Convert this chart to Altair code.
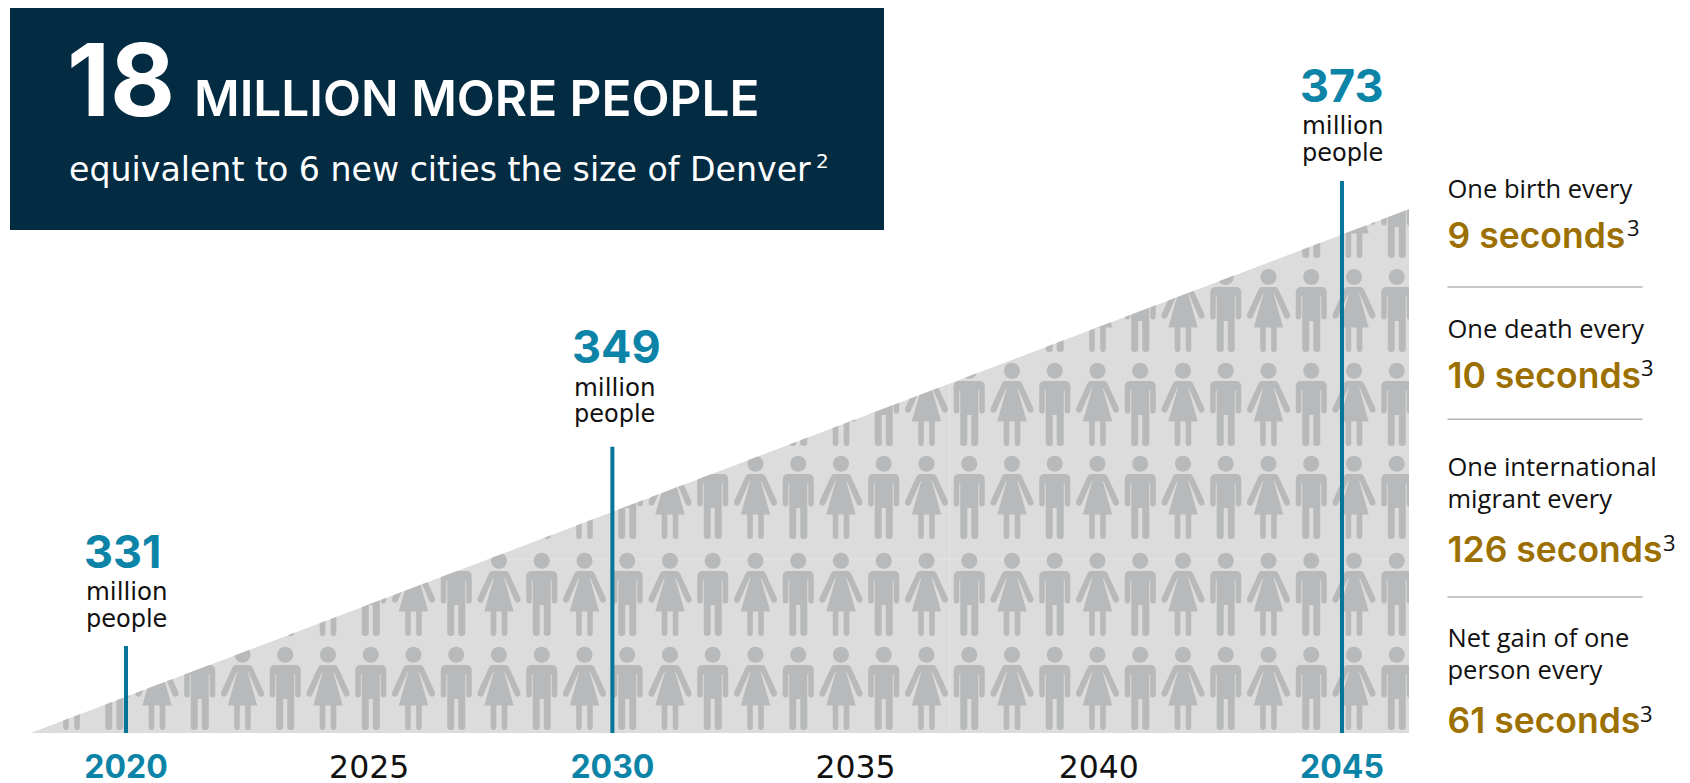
import altair as alt
import pandas as pd

# Population milestones
MILESTONE_YEARS = [2020, 2030, 2045]
MILESTONE_POP = [331, 349, 373]
AXIS_BOLD_YEARS = [2020, 2030, 2045]
AXIS_PLAIN_YEARS = [2025, 2035, 2040]

# The rising wedge behind the pictogram, in years and millions of people
WEDGE_YEARS = [2018.03, 2046.38]
WEDGE_POP = [323.14, 370.48]
BASE_POP = 323.14

# Pictogram lattice: column spacing and the row levels
FIRST_COL_YEAR, COL_STEP, N_COLS = 2018.88, 0.8789, 32
ROW_LEVELS = [327.16, 335.65, 344.41, 352.81, 361.30, 369.79]

W, H = 1690, 783
X_DOMAIN = [2017.41, 2052.155]
Y_DOMAIN = [318.62, 389.36]
TEAL, STEM, GOLD, NAVY = "#0b84a7", "#04749a", "#9c7000", "#032b41"
WEDGE_GREY, ICON_GREY = "#dcdcdc", "#b7b9bb"
NUM_FONT, BODY_FONT, WIDE_FONT = "Inter", "Open Sans", "DejaVu Sans"

# Icon outlines in pixels around the figure's centre; a symbol size of 4 draws them 1:1
HEAD = "M-8,-33.7A8,8 0 1,1 8,-33.7A8,8 0 1,1 -8,-33.7Z"
MAN = HEAD + (
    "M-10,-23.5L10,-23.5Q15.5,-23.5 15.5,-18L15.5,6Q15.5,9 12.7,9Q10,9 10,6L10,-14L9,-14"
    "L9,38.5Q9,41.5 5.5,41.5Q2,41.5 2,38.5L2,10.5L-2,10.5L-2,38.5Q-2,41.5 -5.5,41.5Q-9,41.5 -9,38.5"
    "L-9,-14L-10,-14L-10,6Q-10,9 -12.7,9Q-15.5,9 -15.5,6L-15.5,-18Q-15.5,-23.5 -10,-23.5Z"
)
WOMAN = HEAD + (
    "M-7,-23.5L7,-23.5Q9,-23.5 10,-21L21.3,3.5Q22.3,7 19.5,8Q17,9 15.8,6.5L5.8,-16.5L5.2,-16.5"
    "L14.7,17L8.3,17L8.3,38.5Q8.3,41.5 5.5,41.5Q2.7,41.5 2.7,38.5L2.7,17L-2.7,17L-2.7,38.5"
    "Q-2.7,41.5 -5.5,41.5Q-8.3,41.5 -8.3,38.5L-8.3,17L-14.7,17L-5.2,-16.5L-5.8,-16.5L-15.8,6.5"
    "Q-17,9 -19.5,8Q-22.3,7 -21.3,3.5L-10,-21Q-9,-23.5 -7,-23.5Z"
)

x_enc = alt.X("year:Q", scale=alt.Scale(domain=X_DOMAIN, nice=False, zero=False), axis=None)
y_enc = alt.Y("pop:Q", scale=alt.Scale(domain=Y_DOMAIN, nice=False, zero=False), axis=None)

wedge = pd.DataFrame({
    "year": WEDGE_YEARS,
    "pop": WEDGE_POP,
    "base": [BASE_POP] * 2,
    "top": [Y_DOMAIN[1]] * 2,
})
people = pd.DataFrame(
    [
        {"year": FIRST_COL_YEAR + c * COL_STEP, "pop": level, "col": c}
        for level in ROW_LEVELS
        for c in range(N_COLS)
    ]
)
stems = pd.DataFrame({"year": MILESTONE_YEARS, "pop": MILESTONE_POP, "base": [BASE_POP] * 3})
one_row = pd.DataFrame({"a": [0]})


def label(text, x, y, size, color="#111111", font=BODY_FONT, weight="normal", align="left"):
    return alt.Chart(one_row).mark_text(
        text=text, font=font, fontSize=size, fontWeight=weight, color=color,
        align=align, baseline="alphabetic",
    ).encode(x=alt.value(x), y=alt.value(y))


def box(x, x2, y, y2, color):
    return alt.Chart(one_row).mark_rect(color=color).encode(
        x=alt.value(x), x2=alt.value(x2), y=alt.value(y), y2=alt.value(y2)
    )


layers = [
    alt.Chart(wedge).mark_area(color=WEDGE_GREY, opacity=1).encode(x=x_enc, y=y_enc, y2="base:Q"),
    box(949, 949.7, 200, 733, "#e6e6e6"),
    box(30, 1409, 558.7, 559.4, "#e6e6e6"),
    alt.Chart(people[people.col % 2 == 0]).mark_point(
        shape=WOMAN, filled=True, size=4, color=ICON_GREY, opacity=1, strokeWidth=0
    ).encode(x=x_enc, y=y_enc),
    alt.Chart(people[people.col % 2 == 1]).mark_point(
        shape=MAN, filled=True, size=4, color=ICON_GREY, opacity=1, strokeWidth=0
    ).encode(x=x_enc, y=y_enc),
    # Everything above the slope and past the right edge is masked off
    alt.Chart(wedge).mark_area(color="white", opacity=1).encode(x=x_enc, y=y_enc, y2="top:Q"),
    box(1409, 1440, 100, 740, "white"),
    alt.Chart(stems).mark_rule(color=STEM, strokeWidth=4).encode(x=x_enc, y=y_enc, y2="base:Q"),
    box(10, 884, 8, 230, NAVY),
    label("18", 67, 116, 100, "white", NUM_FONT, 700),
    label("MILLION MORE PEOPLE", 194, 116, 49.5, "white", NUM_FONT, 600),
    label("equivalent to 6 new cities the size of Denver", 69, 181, 33.2, "white", WIDE_FONT),
    label("2", 816, 168, 20, "white", WIDE_FONT),
]

# Milestone captions
for pop, x, base in [("331", 84, 567.7), ("349", 572, 363), ("373", 1300, 101.7)]:
    layers += [
        label(pop, x, base, 45, TEAL, NUM_FONT, 700),
        label("million", x + 2, base + 32.5, 24.5, "#111111", WIDE_FONT),
        label("people", x + 2, base + 59, 24, "#111111", WIDE_FONT),
    ]

# Year labels along the base
for yr in AXIS_BOLD_YEARS:
    layers.append(alt.Chart(pd.DataFrame({"year": [yr], "t": [str(yr)]})).mark_text(
        font=NUM_FONT, fontSize=32, fontWeight=700, color=TEAL, baseline="alphabetic"
    ).encode(x=x_enc, y=alt.value(778), text="t:N"))
for yr in AXIS_PLAIN_YEARS:
    layers.append(alt.Chart(pd.DataFrame({"year": [yr], "t": [str(yr)]})).mark_text(
        font=WIDE_FONT, fontSize=31.5, color="#111111", baseline="alphabetic"
    ).encode(x=x_enc, y=alt.value(778), text="t:N"))

# Components of change, right-hand column
RX = 1447.5
for text, y in [
    ("One birth every", 197.7),
    ("One death every", 337.7),
    ("One international", 476),
    ("migrant every", 508),
    ("Net gain of one", 646.7),
    ("person every", 679),
]:
    layers.append(label(text, RX, y, 25.5))
for text, y, sup_x, sup_y in [
    ("9 seconds", 247.7, 1627, 236),
    ("10 seconds", 387.7, 1641, 376),
    ("126 seconds", 561.7, 1663, 551),
    ("61 seconds", 732.7, 1640, 722),
]:
    layers.append(label(text, RX, y, 35.5, GOLD, NUM_FONT, 600))
    layers.append(label("3", sup_x, sup_y, 22))
for y in [287, 419.3, 597]:
    layers.append(box(RX, 1642.5, y - 0.8, y + 0.8, "#b3b3b3"))

chart = alt.layer(*layers).properties(
    width=W, height=H, padding=0, autosize=alt.AutoSizeParams(type="none"), background="white"
).configure_view(stroke=None)

chart.save("out.html", embed_options={"renderer": "svg", "actions": False})
